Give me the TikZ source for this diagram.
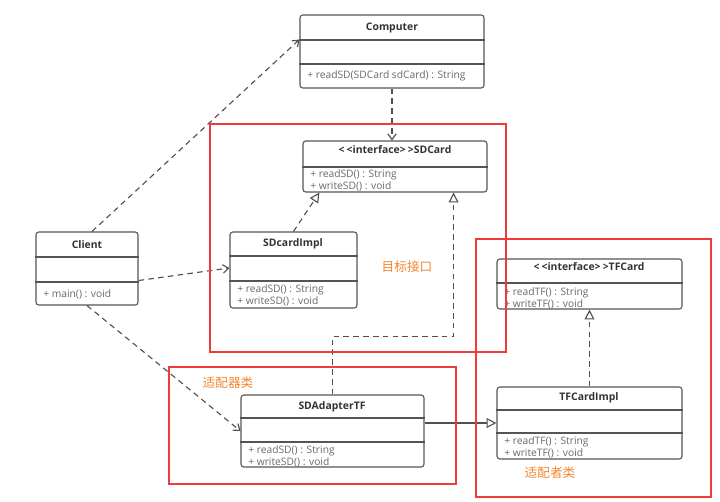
\documentclass[tikz,border=0pt]{standalone}
\usepackage{fontspec}
\setmainfont{Open Sans}
\newfontfamily\cjk{Noto Sans CJK SC}
\definecolor{boxgray}{HTML}{555555}
\definecolor{titlegray}{HTML}{333333}
\definecolor{mthgray}{HTML}{6A6A6A}
\definecolor{linegray}{HTML}{505050}
\definecolor{redline}{HTML}{EE3B3B}
\definecolor{orangetxt}{HTML}{F5862F}
\usetikzlibrary{arrows.meta, positioning, calc, fit}

\begin{document}
\begin{tikzpicture}[x=0.025cm,y=-0.025cm,
    cls/.style={draw=boxgray,line width=0.8pt,rounded corners=2pt,inner sep=0pt,fill=white},
    sepline/.style={draw=boxgray,line width=0.8pt},
    ttl/.style={font=\fontsize{7.4}{8}\selectfont\bfseries,text=titlegray,inner sep=0pt},
    mth/.style={font=\fontsize{7.3}{8.6}\selectfont,text=mthgray,align=left,inner sep=0pt,anchor=west},
    dep/.style={draw=linegray,line width=0.8pt,dash pattern=on 4pt off 3pt,-{Straight Barb[length=4pt,width=6pt]}},
    real/.style={draw=linegray,line width=0.8pt,dash pattern=on 4pt off 3pt,-{Triangle[open,length=7pt,width=7pt,fill=white]}},
    gen/.style={draw=linegray,line width=0.8pt,-{Triangle[open,length=7pt,width=7pt,fill=white]}},
    frame/.style={draw=redline,line width=1.4pt,inner sep=0pt},
    note/.style={font=\cjk\fontsize{9}{10}\selectfont,text=orangetxt,inner sep=0pt}]
    \useasboundingbox (0,0) rectangle (720,501);

    % classes
    \node[cls,fit={(300,15) (484,88)}] (comp) {};
    \draw[sepline] (comp.west |- 0,40) -- (comp.east |- 0,40);
    \draw[sepline] (comp.west |- 0,64) -- (comp.east |- 0,64);
    \node[ttl] (compT) at (392,28) {Computer};
    \node[mth] (compM) at (307,76) {+ readSD(SDCard sdCard) : String};

    \node[cls,fit={(303,141) (487,192)}] (sdcard) {};
    \draw[sepline] (sdcard.west |- 0,167) -- (sdcard.east |- 0,167);
    \node[ttl] (sdcardT) at (395,150) {<\kern1.5pt<interface>\kern1.5pt>SDCard};
    \node[mth] (sdcardM) at (310,180) {+ readSD() : String\\+ writeSD() : void};

    \node[cls,fit={(230,232) (357,308)}] (sdimpl) {};
    \draw[sepline] (sdimpl.west |- 0,256) -- (sdimpl.east |- 0,256);
    \draw[sepline] (sdimpl.west |- 0,281) -- (sdimpl.east |- 0,281);
    \node[ttl] (sdimplT) at (293,244) {SDcardImpl};
    \node[mth] (sdimplM) at (237,295) {+ readSD() : String\\+ writeSD() : void};

    \node[cls,fit={(36,232) (138,305)}] (client) {};
    \draw[sepline] (client.west |- 0,257) -- (client.east |- 0,257);
    \draw[sepline] (client.west |- 0,282) -- (client.east |- 0,282);
    \node[ttl] (clientT) at (87,245) {Client};
    \node[mth] (clientM) at (43,294) {+ main() : void};

    \node[cls,fit={(497,259) (682,309)}] (tfcard) {};
    \draw[sepline] (tfcard.west |- 0,283) -- (tfcard.east |- 0,283);
    \node[ttl] (tfcardT) at (589,267) {<\kern1.5pt<interface>\kern1.5pt>TFCard};
    \node[mth] (tfcardM) at (504,298) {+ readTF() : String\\+ writeTF() : void};

    \node[cls,fit={(241,395) (424,467)}] (adapter) {};
    \draw[sepline] (adapter.west |- 0,418) -- (adapter.east |- 0,418);
    \draw[sepline] (adapter.west |- 0,442) -- (adapter.east |- 0,442);
    \node[ttl] (adapterT) at (332,407) {SDAdapterTF};
    \node[mth] (adapterM) at (248,456) {+ readSD() : String\\+ writeSD() : void};

    \node[cls,fit={(497,387) (682,459)}] (tfimpl) {};
    \draw[sepline] (tfimpl.west |- 0,410) -- (tfimpl.east |- 0,410);
    \draw[sepline] (tfimpl.west |- 0,433) -- (tfimpl.east |- 0,433);
    \node[ttl] (tfimplT) at (589,398) {TFCardImpl};
    \node[mth] (tfimplM) at (504,447) {+ readTF() : String\\+ writeTF() : void};

    % relations
    \draw[dep] ($(client.north)+(5,0)$) -- ($(comp.west)+(0,-12)$);
    \draw[dep] ($(client.east)+(0,12)$) -- ($(sdimpl.west)+(0,-2)$);
    \draw[dep] (client.south) -- (adapter.west);
    \draw[dep] (comp.south) -- (comp.south |- sdcard.north);
    \draw[real] (sdimpl.north) -- ($(sdcard.south west)+(17,0)$);
    \draw[real] (adapter.north) -- ++(0,-58) -| ($(sdcard.south east)+(-34,0)$);
    \draw[gen] (adapter.east |- tfimpl.west) -- (tfimpl.west);
    \draw[real] (tfimpl.north) -- (tfimpl.north |- tfcard.south);

    % red frames
    \node[frame,fit={(210,124) (506,352)}] (target) {};
    \node[frame,fit={(476,239) (711,497)}] (adaptee) {};
    \node[frame,fit={(169,367) (456,484)}] (adaptcls) {};
    \node[note] (targetL) at (407,267) {目标接口};
    \node[note] (adaptclsL) at (228,383) {适配器类};
    \node[note] (adapteeL) at (550,473) {适配者类};
  \end{tikzpicture}
\end{document}
